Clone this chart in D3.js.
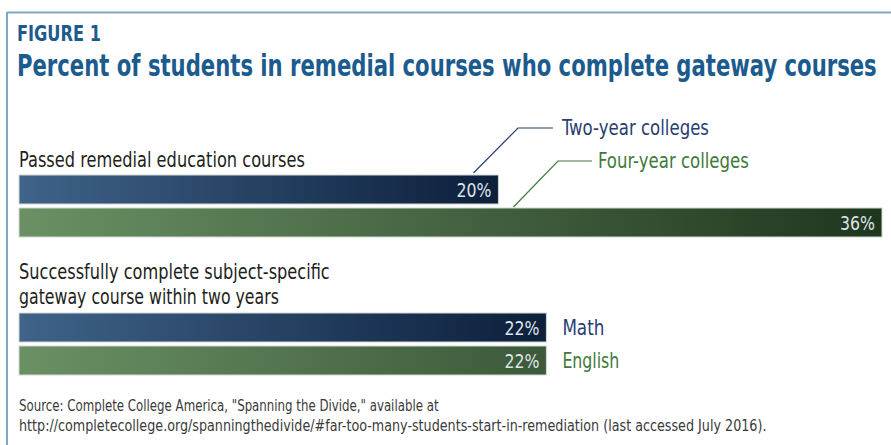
<!DOCTYPE html>
<html><head><meta charset="utf-8">
<script src="https://cdn.jsdelivr.net/npm/d3@7"></script>
<style>
html,body{margin:0;padding:0;background:#fff;}
svg{display:block;}
text{font-family:"Liberation Sans Narrow","DejaVu Sans Condensed","Open Sans",sans-serif;}
</style></head>
<body>
<svg id="chart" width="891" height="445"></svg>
<script>
const figureLabel = "FIGURE 1";
const title = "Percent of students in remedial courses who complete gateway courses";
const groups = ["Passed remedial education courses", "Successfully complete subject-specific|gateway course within two years"];
const seriesPassed = ["Two-year colleges", "Four-year colleges"];
const valuesPassed = [20, 36];
const seriesGateway = ["Math", "English"];
const valuesGateway = [22, 22];
const sourceLines = ["Source: Complete College America, \"Spanning the Divide,\" available at",
  "http://completecollege.org/spanningthedivide/#far-too-many-students-start-in-remediation (last accessed July 2016)."];

const svg = d3.select("#chart");
const W = 891, H = 445;
const blue = "#27406f", green = "#3f7a3a", titleBlue = "#1b5b8e";

// frame
svg.append("line").attr("x1",7).attr("x2",W).attr("y1",12.5).attr("y2",12.5).attr("stroke","#7fa8c4").attr("stroke-width",2);
svg.append("line").attr("x1",7).attr("x2",7).attr("y1",12).attr("y2",H).attr("stroke","#7fa8c4").attr("stroke-width",2);

// place text at (x,y) and scale horizontally so it spans width w
function label(x, y, str, size, fill, w, bold){
  const t = svg.append("text").attr("x",0).attr("y",0).attr("font-size",size).attr("fill",fill)
    .attr("font-weight", bold ? "bold" : null).text(str);
  const nat = t.node().getComputedTextLength();
  const sx = nat > 0 ? w / nat : 1;
  t.attr("transform", `translate(${x},${y}) scale(${sx},1)`);
  return t;
}

label(17, 41, figureLabel, 21, titleBlue, 84, true);
label(17, 76, title, 30, titleBlue, 860, true);

const defs = svg.append("defs");
const gb = defs.append("linearGradient").attr("id","gBlue").attr("x1","0").attr("x2","1").attr("y1","0").attr("y2","0");
gb.append("stop").attr("offset","0").attr("stop-color","#3f6389");
gb.append("stop").attr("offset","1").attr("stop-color","#0c1f3b");

const x = d3.scaleLinear().domain([0, 36]).range([19, 882]);
const gg = defs.append("linearGradient").attr("id","gGreen").attr("gradientUnits","userSpaceOnUse")
  .attr("x1",x(0)).attr("x2",x(36)).attr("y1",0).attr("y2",0);
gg.append("stop").attr("offset","0").attr("stop-color","#6a9064");
gg.append("stop").attr("offset","1").attr("stop-color","#1f361e");

const fills = ["url(#gBlue)", "url(#gGreen)"];
const barH = 29;

// group labels
label(19, 167, groups[0], 21, "#231f20", 286);
const gl = groups[1].split("|");
label(19, 279, gl[0], 21, "#231f20", 311);
label(19, 304, gl[1], 21, "#231f20", 260);

function drawBars(vals, ys){
  vals.forEach((v,i)=>{
    svg.append("rect").attr("x",x(0)).attr("y",ys[i]).attr("width",x(v)-x(0)).attr("height",barH)
      .attr("fill",fills[i]).attr("stroke","#d4d8d4").attr("stroke-width",1);
    label(x(v)-42, ys[i]+barH/2+7, v+"%", 20, "#dde3ea", 35);
  });
}
const yPassed = [175, 208];
const yGateway = [313, 346];
drawBars(valuesPassed, yPassed);
drawBars(valuesGateway, yGateway);

// leader labels for passed
const legendCols = [blue, green];
const leaders = [
  {from:[x(valuesPassed[0])-25, yPassed[0]-2], bend:[518,128], end:[553,128], tx:562, w:147},
  {from:[x(valuesPassed[0])+15, yPassed[1]-1], bend:[558,161], end:[592,161], tx:598, w:151}
];
leaders.forEach((l,i)=>{
  svg.append("polyline").attr("points",[l.from,l.bend,l.end].map(p=>p.join(",")).join(" "))
    .attr("fill","none").attr("stroke",legendCols[i]).attr("stroke-width",1.2);
  label(l.tx, l.end[1]+7, seriesPassed[i], 21, legendCols[i], l.w);
});

// gateway labels
const gwW = [42, 57];
seriesGateway.forEach((s,i)=>{
  label(x(valuesGateway[i])+16, yGateway[i]+barH/2+7.5, s, 22, legendCols[i], gwW[i]);
});

// source
label(19, 411, sourceLines[0], 15, "#3a3a3a", 420);
label(19, 431, sourceLines[1], 15, "#3a3a3a", 748);
</script>
</body></html>
